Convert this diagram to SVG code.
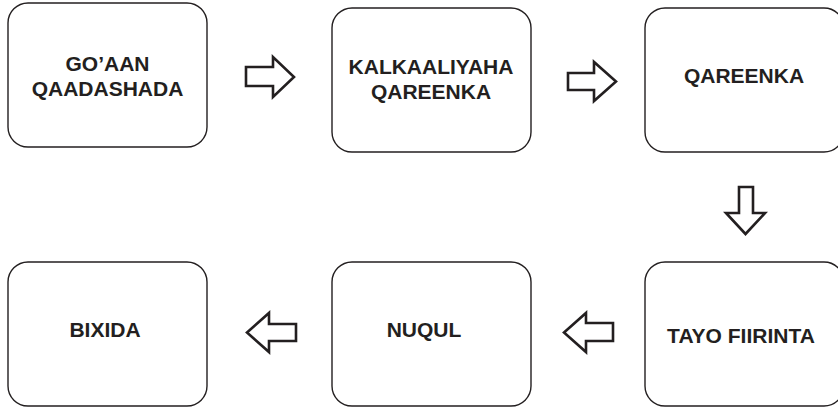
<svg xmlns="http://www.w3.org/2000/svg" width="838" height="408" viewBox="0 0 838 408">
<style>
.box{fill:#fff;stroke:#231f20;stroke-width:1.4}
.lbl{font-family:"Liberation Sans",Arial,sans-serif;font-weight:700;font-size:21px;fill:#231f20;text-anchor:middle}
.arr{fill:#fff;stroke:#231f20;stroke-width:2.6;stroke-linejoin:miter}
</style>
<rect width="838" height="408" fill="#fff"/>
<g id="node-goaan">
<rect class="box" x="8" y="3" width="199" height="144" rx="20"/>
<text class="lbl" x="107.5" y="71">GO’AAN</text>
<text class="lbl" x="107.5" y="96">QAADASHADA</text>
</g>
<g id="node-kalkaaliyaha">
<rect class="box" x="332" y="8" width="199" height="144" rx="20"/>
<text class="lbl" x="431" y="74">KALKAALIYAHA</text>
<text class="lbl" x="431" y="99">QAREENKA</text>
</g>
<g id="node-qareenka">
<rect class="box" x="645" y="8" width="199" height="144" rx="20"/>
<text class="lbl" x="744" y="83">QAREENKA</text>
</g>
<g id="node-tayo">
<rect class="box" x="645" y="262" width="199" height="144" rx="20"/>
<text class="lbl" x="741" y="343">TAYO FIIRINTA</text>
</g>
<g id="node-nuqul">
<rect class="box" x="332" y="262" width="199" height="144" rx="20"/>
<text class="lbl" x="424" y="337">NUQUL</text>
</g>
<g id="node-bixida">
<rect class="box" x="8" y="262" width="199" height="144" rx="20"/>
<text class="lbl" x="105" y="337">BIXIDA</text>
</g>
<g id="connectors">
<path class="arr" d="M246,67 H273 V57 L294,77 L273,97 V86 H246 Z"/>
<path class="arr" d="M568,73 H594 V62 L616,81.5 L594,101 V90 H568 Z"/>
<path class="arr" d="M739,187 V213 H726 L745.5,234 L765,213 H753 V187 Z"/>
<path class="arr" d="M613,323 H586 V313 L564,332.5 L586,352 V341 H613 Z"/>
<path class="arr" d="M296,324 H269 V313 L247,332.5 L269,352 V341 H296 Z"/>
</g>
</svg>
